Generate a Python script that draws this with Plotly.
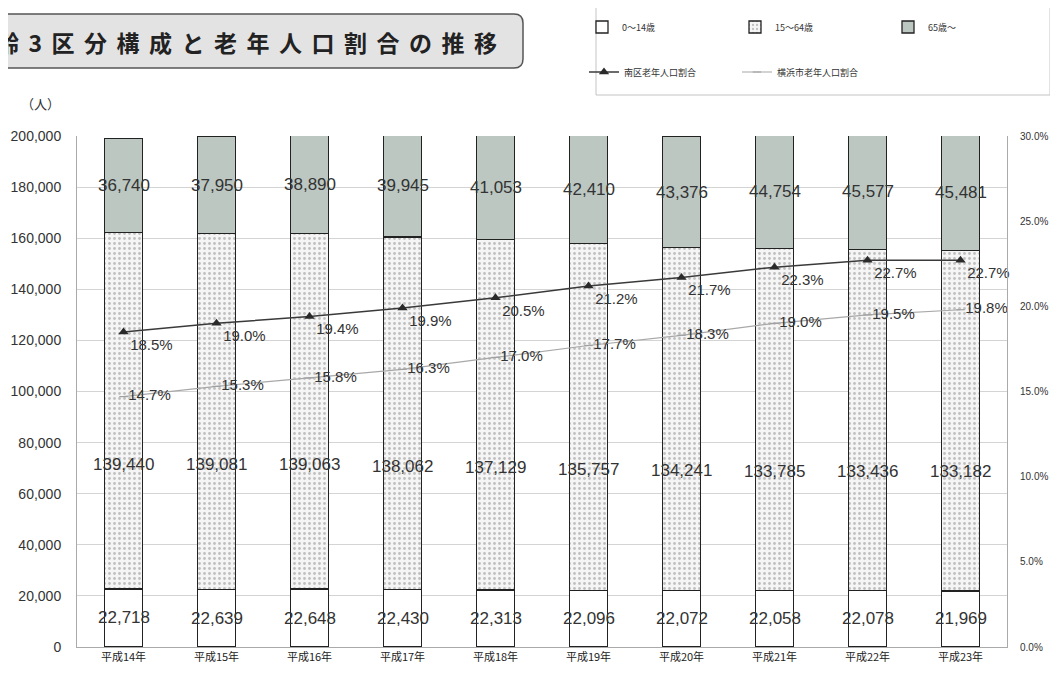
import plotly.graph_objects as go

categories = ["平成14年", "平成15年", "平成16年", "平成17年", "平成18年",
              "平成19年", "平成20年", "平成21年", "平成22年", "平成23年"]
age_0_14 = [22718, 22639, 22648, 22430, 22313, 22096, 22072, 22058, 22078, 21969]
age_15_64 = [139440, 139081, 139063, 138062, 137129, 135757, 134241, 133785, 133436, 133182]
age_65 = [36740, 37950, 38890, 39945, 41053, 42410, 43376, 44754, 45577, 45481]
minami_ratio = [18.5, 19.0, 19.4, 19.9, 20.5, 21.2, 21.7, 22.3, 22.7, 22.7]
yokohama_ratio = [14.7, 15.3, 15.8, 16.3, 17.0, 17.7, 18.3, 19.0, 19.5, 19.8]
left_ticks = list(range(0, 200001, 20000))
right_ticks = [0, 5, 10, 15, 20, 25, 30]

# page body has an 8px default margin; size the figure so it fits the window exactly
OFF = 8
W, H = 1058 - OFF, 675 - OFF
L, R, T, B = 77 - OFF, 51, 136 - OFF, 28
PW, PH = W - L - R, H - T - B


def px_x(x):
    """window pixel x -> paper coordinate"""
    return (x - OFF - L) / PW


def px_y(y):
    """window pixel y -> paper coordinate"""
    return (H - B - (y - OFF)) / PH


TXT = "#333333"
fig = go.Figure()

bar_line = dict(color="#222222", width=1.3)
fig.add_trace(go.Bar(x=categories, y=age_0_14, name="0～14歳", width=0.41,
                     marker=dict(color="#ffffff", line=bar_line), legend="legend"))
fig.add_trace(go.Bar(x=categories, y=age_15_64, name="15～64歳", width=0.41,
                     marker=dict(color="#f3f3f3", line=bar_line,
                                 pattern=dict(shape=".", fgcolor="#8a8a8a", bgcolor="#f5f5f5",
                                              size=5, solidity=0.25)),
                     legend="legend"))
fig.add_trace(go.Bar(x=categories, y=age_65, name="65歳～", width=0.41,
                     marker=dict(color="#bcc7c2", line=bar_line), legend="legend"))

fig.add_trace(go.Scatter(x=categories, y=minami_ratio, name="南区老年人口割合", yaxis="y2",
                         mode="lines+markers+text",
                         line=dict(color="#3a3a3a", width=1.5),
                         marker=dict(symbol="triangle-up", size=9, color="#2a2a2a"),
                         text=[f"{v:.1f}%" for v in minami_ratio],
                         textposition="bottom right",
                         textfont=dict(size=15, color=TXT, family="Liberation Sans"),
                         cliponaxis=False, legend="legend2"))
fig.add_trace(go.Scatter(x=categories, y=yokohama_ratio, name="横浜市老年人口割合", yaxis="y2",
                         mode="lines+markers+text",
                         line=dict(color="#a8a8a8", width=1.2),
                         marker=dict(symbol="line-ew-open", size=6, color="#a0a0a0",
                                     line=dict(width=1.2, color="#a0a0a0")),
                         text=[f"{v:.1f}%" for v in yokohama_ratio],
                         textposition="middle right",
                         textfont=dict(size=15, color=TXT, family="Liberation Sans"),
                         cliponaxis=False, legend="legend2"))

annotations = []
for i, c in enumerate(categories):
    a, b, d = age_0_14[i], age_15_64[i], age_65[i]
    for val, yy in ((a, a / 2), (b, a + 0.35 * b), (d, a + b + d / 2)):
        annotations.append(dict(x=c, y=yy, xref="x", yref="y", text=f"{val:,}",
                                showarrow=False,
                                font=dict(size=17, color=TXT, family="Liberation Sans")))

annotations.append(dict(x=px_x(62), y=px_y(103), xref="paper", yref="paper", text="（人）",
                        xanchor="right", yanchor="middle", showarrow=False,
                        font=dict(size=13, color=TXT, family="Noto Sans CJK JP")))
annotations.append(dict(x=px_x(-6), y=px_y(42), xref="paper", yref="paper",
                        text='<span style="letter-spacing:9.5px">齢3区分構成と老年人口割合の推移</span>',
                        xanchor="left", yanchor="middle", showarrow=False,
                        font=dict(size=23, color="#222222", family="Noto Sans CJK JP", weight="bold")))


def rounded_path(x0, y0, x1, y1, r):
    pts = [
        ("M", x0 + r, y0), ("L", x1 - r, y0), ("Q", x1, y0, x1, y0 + r),
        ("L", x1, y1 - r), ("Q", x1, y1, x1 - r, y1), ("L", x0 + r, y1),
        ("Q", x0, y1, x0, y1 - r), ("L", x0, y0 + r), ("Q", x0, y0, x0 + r, y0),
    ]
    parts = []
    for p in pts:
        if p[0] in ("M", "L"):
            parts.append(f"{p[0]} {px_x(p[1]):.5f},{px_y(p[2]):.5f}")
        else:
            parts.append(f"Q {px_x(p[1]):.5f},{px_y(p[2]):.5f} {px_x(p[3]):.5f},{px_y(p[4]):.5f}")
    return " ".join(parts) + " Z"


shapes = [
    dict(type="path", xref="paper", yref="paper", path=rounded_path(-10, 14, 523, 68, 9),
         fillcolor="#e3e3e3", line=dict(color="#555555", width=1.5), layer="below"),
    dict(type="rect", xref="paper", yref="paper", x0=px_x(596), x1=px_x(1050),
         y0=px_y(95), y1=px_y(4), line=dict(color="#c4c4c4", width=1), fillcolor="rgba(0,0,0,0)"),
]

fig.update_layout(
    width=W, height=H,
    margin=dict(l=L, r=R, t=T, b=B, autoexpand=False),
    barmode="stack",
    paper_bgcolor="white", plot_bgcolor="white",
    font=dict(family="Liberation Sans", color=TXT),
    showlegend=True,
    legend=dict(orientation="h", x=px_x(582), xanchor="left", y=px_y(27), yanchor="middle",
                entrywidth=108, entrywidthmode="pixels", itemwidth=30,
                font=dict(size=9, color=TXT, family="Noto Sans CJK JP"),
                bgcolor="rgba(0,0,0,0)", traceorder="normal"),
    legend2=dict(orientation="h", x=px_x(584), xanchor="left", y=px_y(72), yanchor="middle",
                 entrywidth=108, entrywidthmode="pixels", itemwidth=30,
                 font=dict(size=9, color=TXT, family="Noto Sans CJK JP"),
                 bgcolor="rgba(0,0,0,0)", traceorder="normal"),
    xaxis=dict(range=[-0.5, len(categories) - 0.5], autorange=False,
               showline=True, linecolor="#aaaaaa", linewidth=1, ticks="",
               tickfont=dict(size=11, color="#222222", family="Noto Sans CJK JP"),
               showgrid=False),
    yaxis=dict(range=[0, 200000], tickvals=left_ticks, tickformat=",d",
               showgrid=True, gridcolor="#d4d4d4", gridwidth=1,
               showline=True, linecolor="#aaaaaa", linewidth=1, ticks="",
               ticklabelstandoff=12, zeroline=False,
               tickfont=dict(size=14, color=TXT, family="Liberation Sans")),
    yaxis2=dict(range=[0, 30], tickvals=right_ticks, ticktext=[f"{v:.1f}%" for v in right_ticks],
                overlaying="y", side="right", showgrid=False, zeroline=False,
                showline=True, linecolor="#aaaaaa", linewidth=1, ticks="",
                ticklabelstandoff=10,
                tickfont=dict(size=10, color=TXT, family="Liberation Sans")),
    annotations=annotations,
    shapes=shapes,
)

fig.write_html("out.html")
